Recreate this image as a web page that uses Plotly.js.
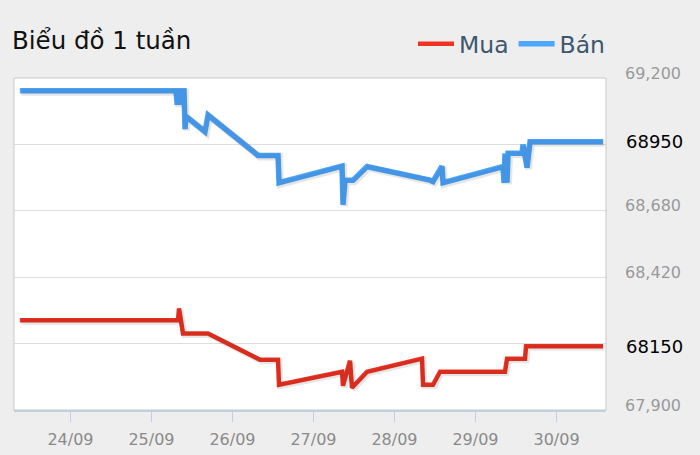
<!DOCTYPE html>
<html>
<head>
<meta charset="utf-8">
<script src="https://cdn.plot.ly/plotly-3.0.1.min.js"></script>
<style>html,body{margin:0;padding:0;background:#EEEEEE;}#chart{width:700px;height:455px;}</style>
</head>
<body>
<div id="chart"></div>
<script>
// ---- data ----
const titleText = "Biểu đồ 1 tuần";
const seriesNames = ["Mua", "Bán"];

const banTimes = [
  "2024-09-23 09:00", "2024-09-25 07:16", "2024-09-25 07:33", "2024-09-25 08:27", "2024-09-25 08:44",
  "2024-09-25 09:38", "2024-09-25 09:56", "2024-09-25 10:13", "2024-09-25 15:51", "2024-09-25 16:44",
  "2024-09-26 07:33", "2024-09-26 13:29", "2024-09-26 13:47", "2024-09-27 08:27", "2024-09-27 08:44",
  "2024-09-27 09:20", "2024-09-27 11:42", "2024-09-27 15:51", "2024-09-28 10:31", "2024-09-28 11:24",
  "2024-09-28 14:04", "2024-09-28 14:22", "2024-09-29 08:09", "2024-09-29 08:27", "2024-09-29 08:44",
  "2024-09-29 09:20", "2024-09-29 09:38", "2024-09-29 13:47", "2024-09-29 14:04", "2024-09-29 15:16",
  "2024-09-29 16:09", "2024-09-30 13:47"
];
const banValues = [
  69150, 69150, 69105, 69105, 69150,
  69150, 69000, 69050, 68990, 69055,
  68897, 68897, 68790, 68855, 68704,
  68800, 68800, 68853, 68800, 68795,
  68855, 68790, 68853, 68790, 68905,
  68790, 68905, 68905, 68940, 68849,
  68950, 68950
];

const muaTimes = [
  "2024-09-23 09:00", "2024-09-25 07:51", "2024-09-25 08:09", "2024-09-25 09:20", "2024-09-25 16:44",
  "2024-09-26 08:09", "2024-09-26 13:29", "2024-09-26 13:47", "2024-09-27 08:27", "2024-09-27 08:44",
  "2024-09-27 10:49", "2024-09-27 11:24", "2024-09-27 15:51", "2024-09-28 08:09", "2024-09-28 08:27",
  "2024-09-28 11:24", "2024-09-28 13:29", "2024-09-29 08:44", "2024-09-29 09:20", "2024-09-29 14:40",
  "2024-09-29 14:58", "2024-09-30 13:47"
];
const muaValues = [
  68251, 68251, 68298, 68200, 68200,
  68097, 68097, 67999, 68050, 67995,
  68093, 67987, 68050, 68101, 67999,
  67999, 68050, 68050, 68101, 68101,
  68150, 68150
];

const yTickVals = [69200, 68940, 68680, 68420, 68160, 67900];
const yTickText = ["69,200", "", "68,680", "68,420", "", "67,900"];
const lastLabels = ["68150", "68950"];
const lastValues = [68150, 68950];

// ---- layout constants ----
const W = 700, H = 455;
const M = {l: 14, r: 94, t: 78, b: 45};
const xRange = ["2024-09-23 07:16", "2024-09-30 14:40"];
const yRange = [67900, 69200];
const plotW = W - M.l - M.r, plotH = H - M.t - M.b;

// shadow offset via overlaid axes
const x0 = new Date(xRange[0].replace(" ", "T") + "Z").getTime();
const x1 = new Date(xRange[1].replace(" ", "T") + "Z").getTime();
const dx = (x1 - x0) / plotW * 1.5;
const dy = (yRange[1] - yRange[0]) / plotH * 1.5;
function fmt(ms){ return new Date(ms).toISOString().replace("T"," ").slice(0,19); }

const red = "#EF3323", blue = "#4DA6FF";

const traces = [
  {x: muaTimes, y: muaValues, xaxis: "x2", yaxis: "y2", mode: "lines", showlegend: false, hoverinfo: "skip",
   line: {color: "rgba(0,0,0,0.10)", width: 6}},
  {x: banTimes, y: banValues, xaxis: "x2", yaxis: "y2", mode: "lines", showlegend: false, hoverinfo: "skip",
   line: {color: "rgba(0,0,0,0.10)", width: 7}},
  {x: muaTimes, y: muaValues, name: seriesNames[0], mode: "lines", line: {color: red, width: 4.5}},
  {x: banTimes, y: banValues, name: seriesNames[1], mode: "lines", line: {color: blue, width: 5.5}}
];

const layout = {
  width: W, height: H,
  margin: M,
  paper_bgcolor: "#EEEEEE",
  plot_bgcolor: "#FFFFFF",
  font: {family: "DejaVu Sans, sans-serif"},
  title: {text: titleText, x: 12 / W, xanchor: "left", y: 1 - 40 / H, yanchor: "middle",
          font: {size: 24.5, color: "#111111", family: "DejaVu Sans, sans-serif"}},
  showlegend: true,
  legend: {orientation: "h", x: 1 + 4 / plotW, xanchor: "right", y: 1 + 34 / plotH, yanchor: "middle",
           bgcolor: "rgba(0,0,0,0)", font: {size: 23.5, color: "#3E576F"}, traceorder: "normal",
           itemwidth: 36},
  xaxis: {type: "date", range: xRange, tickformat: "%d/%m", dtick: 86400000, tick0: "2024-09-24",
          showgrid: false, zeroline: false, showline: true, linecolor: "#C0D0E0", linewidth: 2,
          ticks: "outside", ticklen: 10, tickcolor: "#C0D0E0", tickwidth: 1,
          tickfont: {size: 16, color: "#8A8A8A"}, ticklabelstandoff: 4, fixedrange: true},
  yaxis: {range: yRange, side: "right", tickvals: yTickVals, ticktext: yTickText,
          showgrid: true, gridcolor: "#DDDDDD", gridwidth: 1, zeroline: false, showline: false,
          ticks: "", tickfont: {size: 16, color: "#999999"}, ticklabelstandoff: 18, ticklabelshift: -5,
          fixedrange: true},
  xaxis2: {type: "date", overlaying: "x", range: [fmt(x0 - dx), fmt(x1 - dx)], visible: false, fixedrange: true},
  yaxis2: {overlaying: "y", range: [yRange[0] + dy, yRange[1] + dy], visible: false, fixedrange: true},
  shapes: [
    {type: "rect", xref: "paper", yref: "paper", x0: 0, x1: 1, y0: 0, y1: 1,
     line: {color: "#C8C8C8", width: 1}, fillcolor: "rgba(0,0,0,0)", layer: "above"}
  ],
  annotations: lastLabels.map((t, i) => ({
    text: t, xref: "paper", yref: "y", x: 1 + 18 / plotW, xanchor: "left", y: lastValues[i], yanchor: "middle",
    showarrow: false, font: {size: 18, color: "#000000"}
  }))
};

Plotly.newPlot("chart", traces, layout, {displayModeBar: false, staticPlot: true});
</script>
</body>
</html>
